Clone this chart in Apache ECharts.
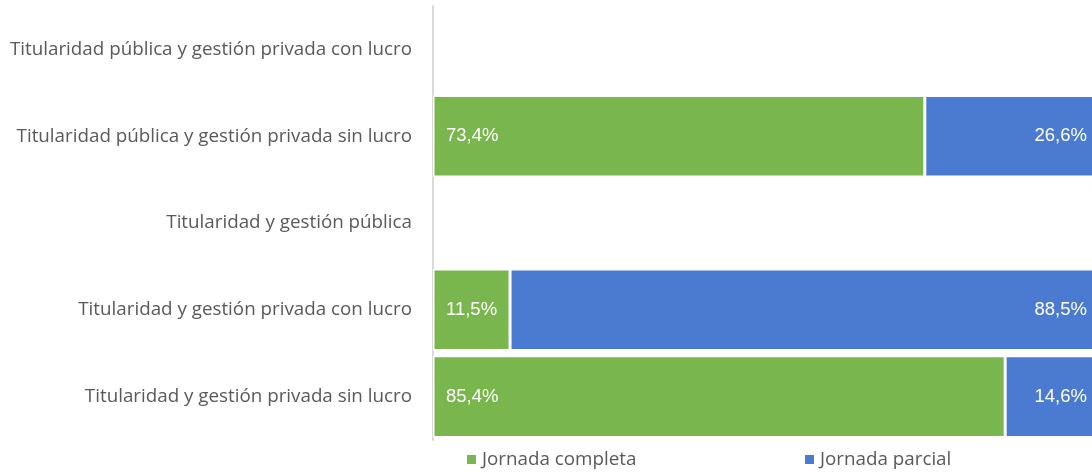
<!DOCTYPE html>
<html><head><meta charset="utf-8">
<script src="https://cdn.jsdelivr.net/npm/echarts@6/dist/echarts.min.js"></script>
<style>html,body{margin:0;padding:0;background:#fff;overflow:hidden}#c{width:1092px;height:473px}</style>
</head><body><div id="c"></div>
<script>
const categories = [
  "Titularidad y gestión privada sin lucro",
  "Titularidad y gestión privada con lucro",
  "Titularidad y gestión pública",
  "Titularidad pública y gestión privada sin lucro",
  "Titularidad pública y gestión privada con lucro"
];
const jornadaCompleta = [85.4, 11.5, null, 73.4, null];
const jornadaParcial = [14.6, 88.5, null, 26.6, null];
const seriesNames = ["Jornada completa", "Jornada parcial"];

const chart = echarts.init(document.getElementById('c'));
const fmt = p => p.value == null ? '' : p.value.toFixed(1).replace('.', ',') + '%';
const legendText = {color: '#595959', fontSize: 18.8, fontFamily: 'Open Sans'};
chart.setOption({
  animation: false,
  grid: {left: 433, width: 670, top: 6, bottom: 33, containLabel: false, outerBoundsMode: 'none'},
  xAxis: {type: 'value', min: 0, max: 100, show: false},
  yAxis: {
    type: 'category', data: categories,
    axisLine: {lineStyle: {color: '#d9d9d9', width: 2}},
    axisTick: {show: false},
    axisLabel: {color: '#595959', fontSize: 18.8, fontFamily: 'Open Sans', margin: 21}
  },
  legend: [
    {data: [seriesNames[0]], left: 460, top: 445, itemWidth: 11, itemHeight: 11, itemGap: 5,
     textStyle: legendText, icon: 'rect'},
    {data: [seriesNames[1]], left: 798, top: 445, itemWidth: 11, itemHeight: 11, itemGap: 5,
     textStyle: legendText, icon: 'rect'}
  ],
  series: [
    {name: seriesNames[0], type: 'bar', stack: 't', data: jornadaCompleta, barCategoryGap: '6%',
     itemStyle: {color: '#7AB64E', borderColor: '#fff', borderWidth: 1.5},
     label: {show: true, position: 'insideLeft', distance: 13, color: '#fff', fontSize: 18.5, fontFamily: 'Liberation Sans', formatter: fmt}},
    {name: seriesNames[1], type: 'bar', stack: 't', data: jornadaParcial, barCategoryGap: '6%',
     itemStyle: {color: '#4B7BD1', borderColor: '#fff', borderWidth: 1.5},
     label: {show: true, position: 'insideRight', distance: 16, color: '#fff', fontSize: 18.5, fontFamily: 'Liberation Sans', formatter: fmt}}
  ]
});
</script></body></html>
